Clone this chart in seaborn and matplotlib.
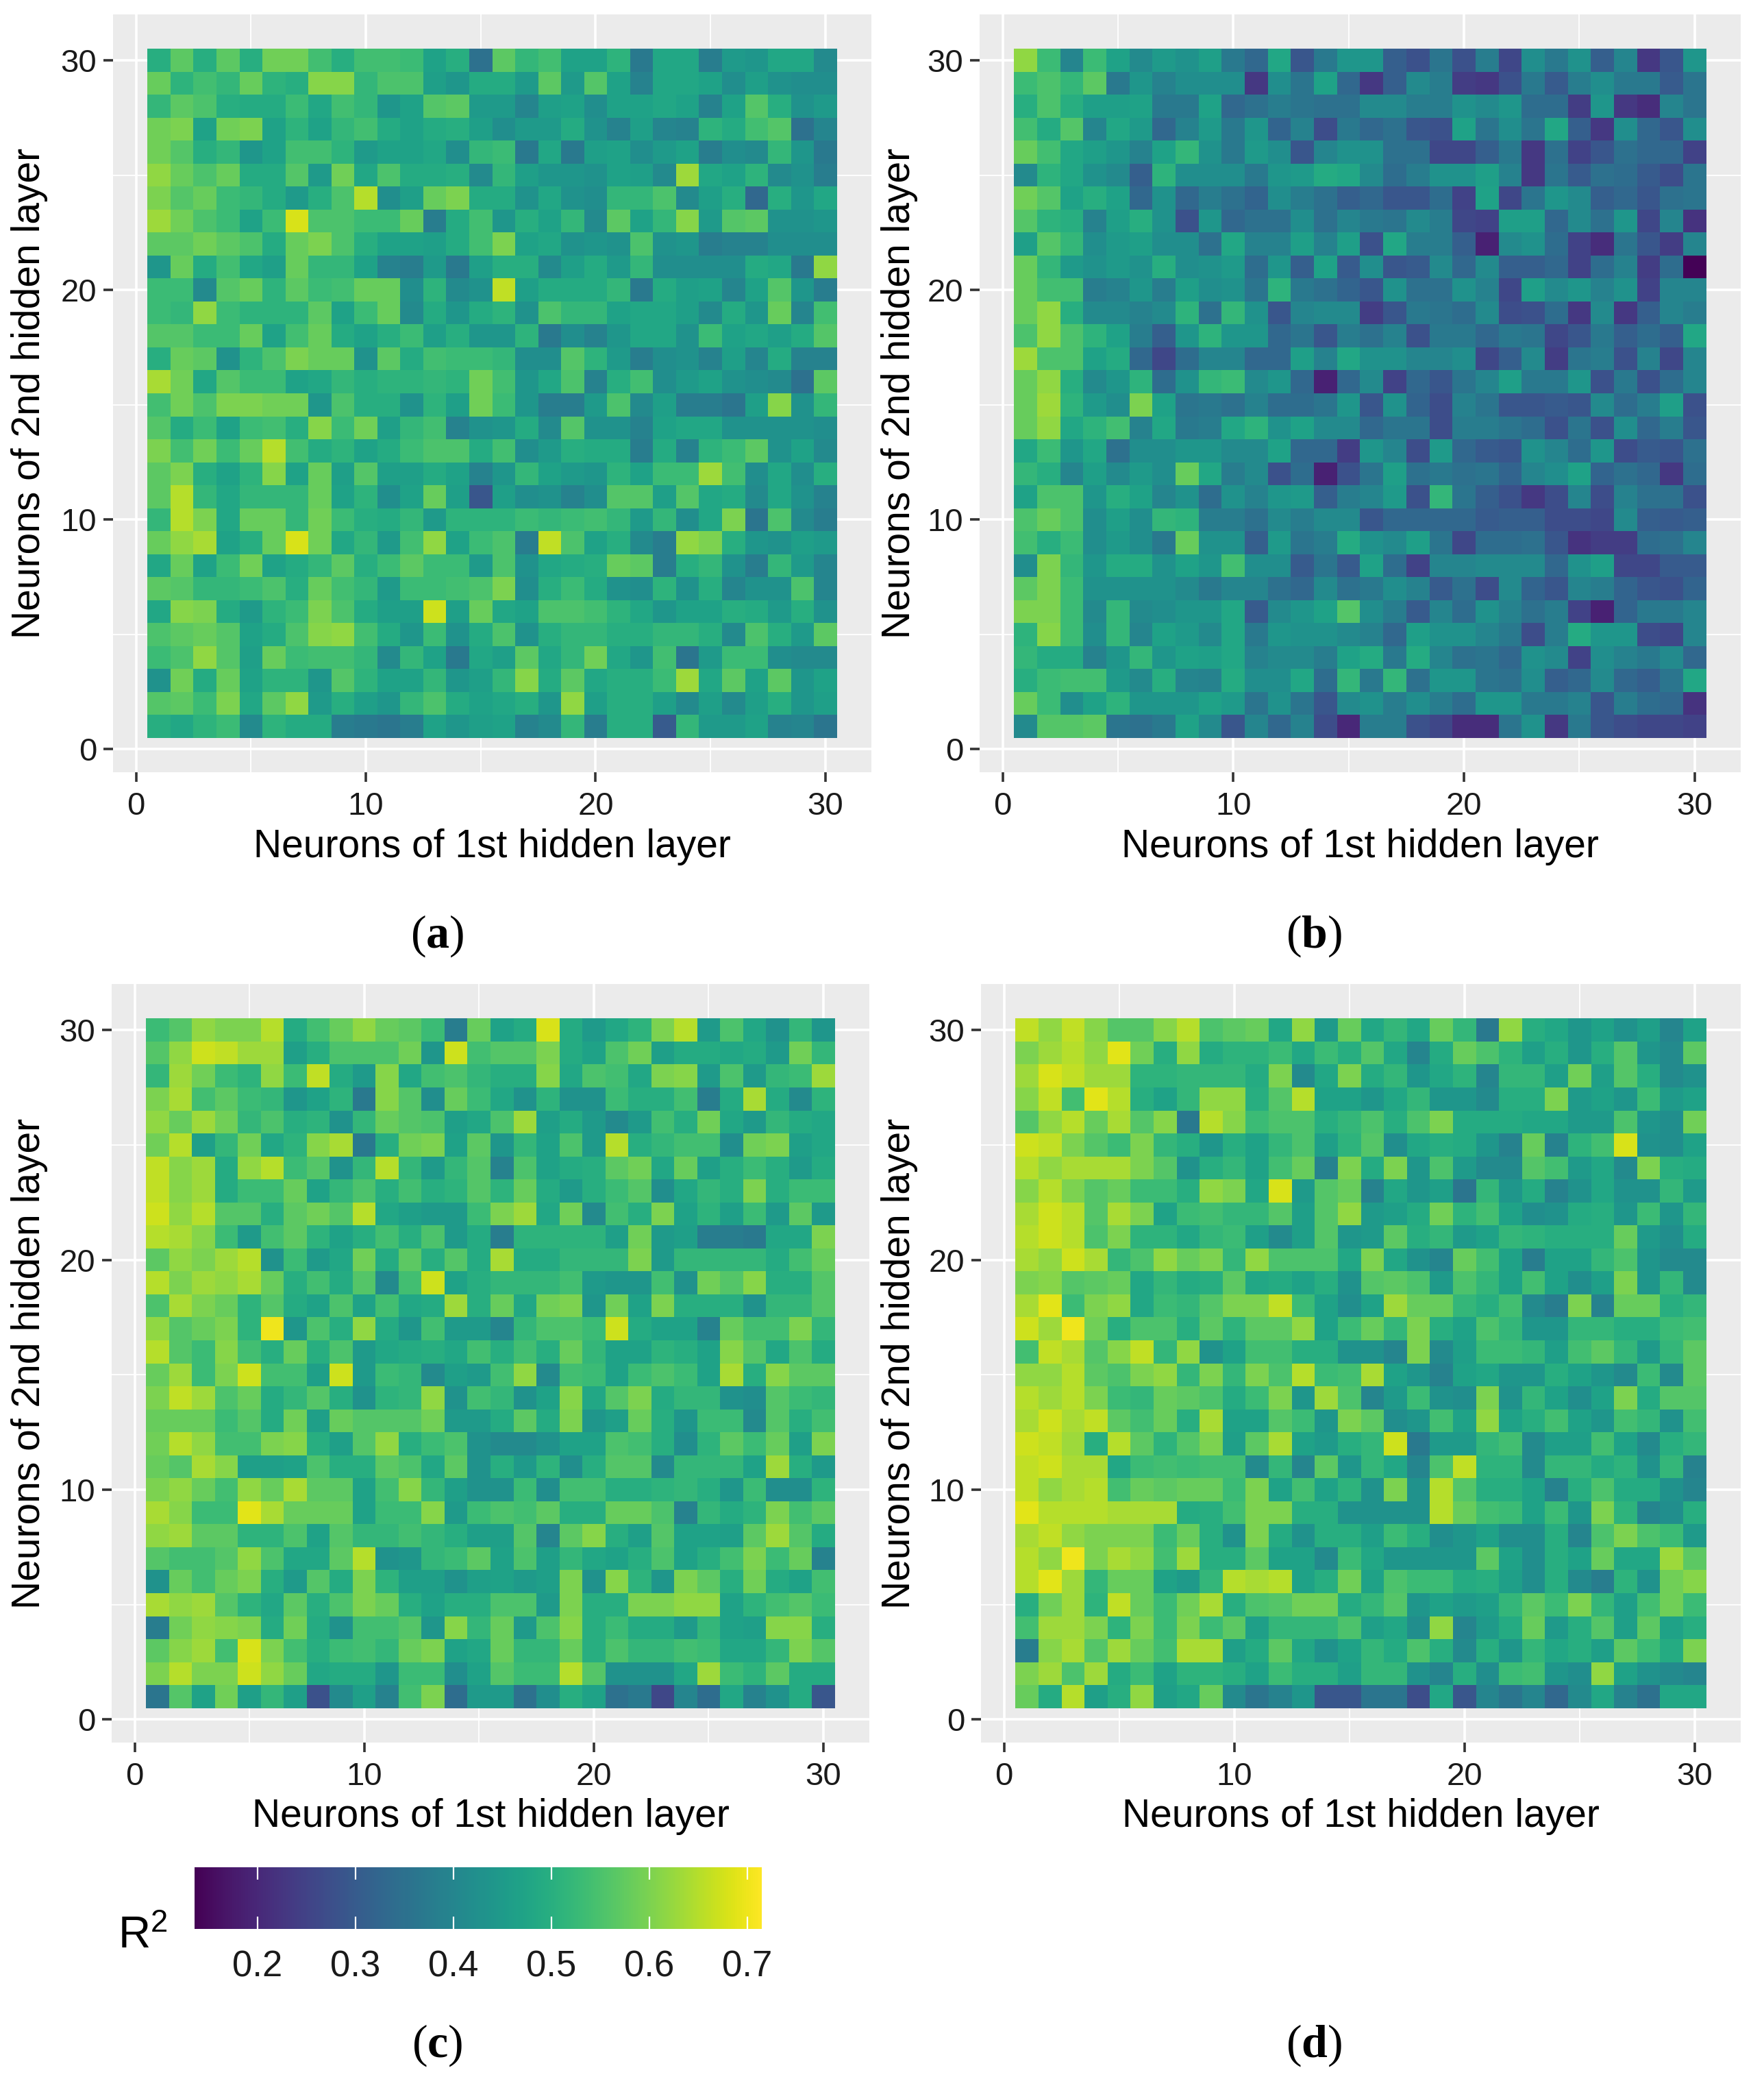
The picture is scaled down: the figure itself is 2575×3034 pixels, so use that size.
import numpy as np
import pandas as pd
import seaborn as sns
import matplotlib
matplotlib.use("Agg")
import matplotlib.pyplot as plt

# R2 x 100, rows go from y=30 (top) down to y=1
panel_a = [
    [50,57,50,57,50,59,59,54,50,54,54,53,47,50,35,57,52,54,47,47,51,37,48,48,38,45,44,48,48,41],
    [58,51,54,52,58,51,50,61,61,52,55,55,46,44,49,49,45,57,45,56,47,39,48,48,47,42,46,43,42,42],
    [52,57,55,50,49,49,53,48,54,52,44,47,56,57,45,45,40,46,47,42,47,47,48,47,39,47,56,50,43,45],
    [59,60,47,59,60,47,51,47,52,54,49,47,49,50,46,42,45,45,49,43,39,46,40,39,51,49,54,56,35,40],
    [59,56,50,52,44,47,54,54,51,45,47,47,48,42,52,53,37,48,37,46,47,42,45,47,38,42,41,52,44,37],
    [62,58,55,58,49,49,56,45,59,48,55,49,49,50,41,52,46,44,44,43,47,46,41,63,48,47,51,41,43,38],
    [60,56,58,53,52,49,45,50,55,65,42,46,58,60,49,49,43,48,43,42,52,52,55,41,46,50,33,50,44,48],
    [63,59,55,53,47,53,68,55,55,53,53,58,38,49,54,44,50,47,52,41,57,47,52,61,45,56,57,43,43,44],
    [57,57,59,57,55,49,58,60,55,50,47,47,46,49,54,60,47,48,43,44,43,55,43,44,38,39,39,42,42,42],
    [44,58,49,54,48,46,58,52,52,47,39,38,45,37,46,50,50,41,46,49,45,52,42,42,42,42,49,48,37,62],
    [53,53,41,56,58,51,57,53,54,58,58,42,51,41,43,66,46,49,49,49,52,37,49,46,47,40,47,56,44,38],
    [53,52,62,53,51,51,51,57,47,53,58,41,49,44,49,51,43,55,52,52,47,48,48,46,41,49,44,58,40,54],
    [56,56,53,53,58,47,54,58,49,47,50,53,46,50,44,44,51,37,42,39,44,48,48,43,53,47,48,46,49,56],
    [50,58,57,43,51,55,60,58,58,43,57,49,54,53,53,52,42,42,56,51,45,38,42,43,39,46,40,49,39,39],
    [64,59,48,56,53,53,47,48,52,50,51,51,52,51,59,54,44,48,55,39,50,54,42,45,47,43,42,41,35,57],
    [54,59,55,60,60,59,59,44,55,50,50,43,51,46,59,53,44,38,38,45,55,41,46,38,38,36,46,61,43,52],
    [56,49,53,47,53,54,50,61,53,59,46,52,54,39,43,44,49,41,56,43,43,39,47,48,48,43,43,43,43,42],
    [60,54,59,53,58,65,54,49,51,47,49,53,55,55,49,54,42,45,50,49,49,38,49,39,51,53,57,43,47,41],
    [57,60,50,47,51,61,47,58,46,56,46,46,49,47,39,44,52,47,45,44,51,47,53,53,63,54,42,48,42,50],
    [57,65,52,48,52,52,52,58,47,51,42,47,58,46,29,46,42,43,39,42,56,56,46,56,48,49,41,48,43,39],
    [52,65,60,48,58,58,52,59,53,50,49,52,45,51,51,51,53,52,53,54,52,45,52,42,48,60,36,55,41,38],
    [58,62,64,47,50,58,68,59,48,52,45,54,62,47,53,55,38,66,55,47,50,41,38,62,60,50,44,43,46,45],
    [48,58,47,53,59,47,49,52,57,50,53,57,53,53,45,55,43,48,49,50,58,57,38,50,52,43,38,52,45,40],
    [57,56,52,52,53,55,50,58,54,52,45,53,53,54,55,60,42,50,53,49,43,42,51,43,50,40,43,43,55,40],
    [48,61,60,49,45,51,53,60,55,49,46,46,67,46,58,48,47,55,55,54,51,48,44,47,47,50,49,45,50,43],
    [55,57,58,56,47,49,55,61,62,54,49,44,53,43,49,55,43,50,52,52,50,50,52,52,50,41,55,50,45,57],
    [53,55,62,56,46,58,53,54,54,52,41,52,47,37,48,46,57,48,52,59,48,44,54,36,45,53,53,42,41,41],
    [43,59,49,58,47,51,51,44,56,51,47,47,52,44,46,52,61,49,57,48,50,50,53,63,48,57,47,57,44,47],
    [56,57,53,60,48,57,62,45,50,46,44,52,55,49,47,48,50,44,62,46,50,50,46,41,46,41,46,50,44,46],
    [50,48,51,53,41,51,49,49,38,37,36,38,47,44,46,47,39,41,52,38,50,50,30,52,45,45,47,39,40,36],
]
panel_b = [
    [62,53,40,53,47,41,45,43,46,37,33,48,29,37,44,44,31,28,36,28,38,26,42,37,43,31,40,23,29,44],
    [53,55,52,57,37,44,39,42,42,42,23,42,36,47,33,23,31,41,38,24,23,28,37,30,38,42,37,37,30,36],
    [50,55,50,46,46,47,37,37,47,33,35,38,36,35,35,41,41,38,38,43,41,44,34,34,24,44,23,21,40,36],
    [54,49,56,40,48,45,33,39,45,37,44,32,39,27,37,33,35,29,28,47,36,42,36,48,31,23,42,33,29,42],
    [58,54,48,46,44,39,47,52,43,37,45,42,29,40,43,43,35,35,26,26,31,37,23,35,25,29,35,33,33,25],
    [41,51,48,43,41,31,51,42,42,42,37,44,45,49,48,41,34,38,43,43,46,39,23,36,30,35,34,30,27,36],
    [59,56,47,50,47,33,43,33,38,35,32,42,38,35,31,33,29,29,34,25,47,26,36,44,41,31,33,29,35,36],
    [56,51,50,39,46,50,43,28,44,33,35,35,42,35,40,37,36,41,38,26,25,46,46,33,41,35,44,26,40,22],
    [46,56,52,42,45,46,42,42,35,48,39,39,46,39,46,28,48,38,38,31,19,41,43,34,25,21,36,29,24,40],
    [58,52,45,43,45,43,50,42,43,45,34,44,31,47,30,42,29,30,41,33,41,31,31,33,25,34,39,24,34,14],
    [58,54,54,38,39,44,38,46,42,43,36,51,37,35,32,29,43,35,35,43,39,26,46,41,44,39,43,25,40,40],
    [58,62,50,41,41,39,41,51,35,52,43,29,40,41,41,24,29,37,36,34,41,27,28,34,23,41,23,31,40,38],
    [55,62,55,51,47,38,31,44,51,44,44,33,36,29,38,35,39,28,37,37,33,37,36,26,29,37,31,34,31,48],
    [63,55,55,47,49,33,26,34,40,40,33,33,46,39,48,43,43,40,40,42,26,31,41,24,36,38,28,39,26,40],
    [58,62,50,41,44,51,34,43,52,53,41,44,33,19,33,41,25,33,29,36,40,46,37,37,44,28,37,28,34,40],
    [58,63,51,45,42,60,47,36,37,35,39,34,34,36,44,29,43,32,27,39,36,29,29,30,29,41,34,38,46,28],
    [58,62,48,51,54,39,48,37,38,48,51,43,47,41,41,33,36,36,27,38,38,36,34,28,36,28,42,33,38,29],
    [48,53,44,48,35,42,42,44,44,41,41,47,33,33,24,44,40,27,45,33,30,29,43,40,34,44,27,30,29,35],
    [52,50,40,46,41,45,42,58,48,38,41,28,34,19,28,36,46,35,37,35,36,32,40,42,47,32,35,33,23,34],
    [47,55,55,44,50,47,40,43,34,43,39,44,45,31,38,40,45,28,52,36,31,28,23,27,40,27,39,35,35,28],
    [55,58,55,42,46,42,52,51,38,38,35,41,38,41,41,29,33,33,33,33,30,31,31,27,27,26,41,31,30,31],
    [54,50,53,42,45,42,37,58,43,43,31,45,36,38,49,43,41,46,36,26,34,34,35,29,22,24,24,34,35,40],
    [42,60,52,44,49,49,43,47,44,54,42,42,30,36,30,47,34,25,40,40,41,41,41,33,43,46,26,26,30,30],
    [57,60,53,43,43,43,43,41,37,40,40,35,33,41,35,37,42,39,30,35,27,41,32,29,40,38,32,29,28,32],
    [60,60,53,41,52,41,42,44,44,48,30,41,44,47,56,42,38,30,40,34,43,39,35,38,25,19,32,37,37,40],
    [51,61,53,42,52,40,47,45,41,48,37,44,43,43,41,39,33,46,43,43,40,37,27,38,49,44,44,27,26,40],
    [52,49,49,39,44,52,44,47,46,48,39,41,41,38,47,49,37,49,40,35,36,33,43,41,25,42,39,37,41,33],
    [50,53,54,54,45,41,50,40,39,49,42,42,48,34,52,37,52,35,44,44,36,35,42,31,33,41,33,31,36,48],
    [58,53,42,47,51,44,44,44,47,45,36,43,36,29,41,43,38,42,38,34,44,44,37,37,39,29,38,34,33,22],
    [41,56,56,57,36,35,37,47,41,29,40,33,39,27,20,38,38,28,26,21,21,36,43,23,37,29,27,26,26,25],
]
panel_c = [
    [53,56,62,60,60,65,49,54,58,62,58,57,53,38,58,47,49,68,49,45,48,51,60,65,45,55,48,43,52,44],
    [56,62,67,66,63,63,46,50,55,55,55,59,44,67,54,56,56,60,49,47,55,59,46,49,49,48,49,45,59,52],
    [52,63,59,53,51,62,53,66,49,45,61,48,54,55,52,50,50,61,48,55,54,48,60,61,45,55,45,52,53,63],
    [60,64,54,57,53,52,44,47,51,37,61,56,42,58,53,48,43,51,43,43,53,50,50,54,38,49,64,49,41,51],
    [62,58,63,59,52,55,50,51,43,52,58,56,55,46,48,55,63,46,49,45,41,45,54,50,59,48,45,52,49,48],
    [59,65,46,52,59,48,51,61,64,37,50,59,60,47,57,44,52,47,55,45,65,50,52,54,54,42,59,60,46,48],
    [66,61,63,49,62,65,53,56,43,52,65,52,45,52,56,39,55,47,49,50,57,59,48,58,46,50,53,50,45,49],
    [66,61,63,49,53,53,58,47,52,55,50,54,50,51,56,51,58,49,45,50,53,56,42,48,52,50,60,50,53,53],
    [67,62,65,56,56,50,57,59,56,65,48,46,45,45,53,60,63,48,59,41,54,50,60,47,51,46,53,45,57,45],
    [65,64,61,53,45,54,57,51,47,50,54,50,55,45,49,38,51,51,51,51,46,59,45,46,38,38,37,48,48,60],
    [57,62,60,63,65,43,53,45,48,59,49,57,50,56,49,64,49,49,52,52,52,60,45,52,52,52,52,49,54,58],
    [65,60,63,62,64,58,50,54,49,56,41,54,67,47,50,52,52,52,54,45,44,44,54,43,59,56,61,50,50,56],
    [55,64,60,58,51,56,49,47,55,47,54,48,49,63,50,58,48,59,60,44,59,47,60,50,50,50,43,52,52,56],
    [62,56,58,60,51,70,44,55,50,62,49,44,54,45,45,40,52,55,55,53,67,49,47,47,39,58,54,54,60,52],
    [65,56,53,61,54,50,58,50,55,45,48,49,50,48,54,50,54,50,58,52,47,47,51,50,47,61,56,48,55,49],
    [58,63,53,60,67,54,54,46,67,45,53,52,41,46,45,54,62,41,54,53,47,53,55,53,47,64,50,61,57,57],
    [60,66,63,55,58,49,52,56,50,43,51,52,62,43,54,52,43,47,61,48,56,60,49,52,52,43,42,56,53,52],
    [58,58,58,53,56,49,59,46,58,56,56,56,59,45,45,49,57,49,60,44,46,58,50,44,53,53,41,56,50,54],
    [59,65,62,54,54,60,61,50,46,56,62,50,53,55,43,41,41,43,47,47,55,54,50,42,51,57,53,58,46,60],
    [58,56,64,61,46,46,47,55,50,50,57,55,48,57,43,50,45,51,42,50,56,56,41,52,52,52,47,63,50,45],
    [60,62,58,54,62,58,64,57,57,47,54,61,52,46,43,43,53,42,54,54,50,50,51,52,50,44,53,42,42,51],
    [64,61,53,53,69,64,58,58,58,47,53,53,61,45,53,55,54,57,50,50,58,58,55,39,52,49,51,60,54,57],
    [62,63,57,57,51,51,55,47,56,52,52,54,52,50,46,46,56,40,57,61,50,46,56,47,47,46,57,63,56,49],
    [56,54,54,56,62,55,48,48,57,65,43,44,52,53,57,47,55,46,52,48,47,50,55,47,50,54,60,53,58,39],
    [43,58,54,58,60,50,45,56,49,60,51,46,46,43,46,47,45,46,60,43,61,51,44,60,57,50,59,49,47,54],
    [64,62,63,56,51,48,57,50,55,60,58,50,47,50,50,55,55,45,60,50,50,60,60,62,62,47,51,54,56,53],
    [38,59,62,61,60,49,59,49,43,54,54,56,44,61,52,58,45,55,61,50,53,49,49,45,52,47,46,61,61,50],
    [57,61,63,54,68,60,54,50,53,54,52,58,60,47,48,58,52,52,58,50,55,52,52,54,53,48,48,52,60,56],
    [60,65,60,60,67,62,58,48,49,49,44,53,53,42,47,56,53,53,65,56,43,43,43,48,63,53,51,57,49,49],
    [36,56,47,59,46,52,46,28,41,46,39,54,60,34,45,45,35,42,50,47,35,37,26,40,34,48,39,43,49,29],
]
panel_d = [
    [66,62,66,61,56,56,61,65,55,57,58,48,62,45,58,48,52,48,58,52,37,62,50,48,44,47,43,46,40,47],
    [60,63,65,62,69,59,50,62,49,51,51,53,48,53,50,56,48,40,49,58,55,51,46,50,44,50,56,44,41,57],
    [63,68,66,63,63,51,51,52,52,52,49,60,41,48,60,49,52,44,48,51,40,52,52,46,59,46,56,50,41,43],
    [61,66,54,69,65,50,47,52,62,62,50,56,65,47,47,44,48,52,44,44,41,50,50,60,45,47,44,53,45,47],
    [56,62,65,58,64,56,61,37,65,61,53,55,55,50,52,55,50,55,60,49,49,49,48,48,45,45,55,44,42,59],
    [67,66,60,56,53,60,52,50,44,50,47,52,55,46,51,56,42,48,50,49,44,39,58,39,51,54,68,43,42,47],
    [65,62,64,64,64,60,56,43,50,52,47,54,58,39,60,49,60,44,55,45,41,41,56,54,45,48,41,60,50,49],
    [61,65,60,56,58,53,53,50,62,60,48,68,45,56,58,39,48,44,46,36,52,44,49,39,43,48,43,43,52,45],
    [64,67,65,56,64,60,47,53,54,52,52,56,46,56,62,45,46,49,59,51,54,47,42,43,49,50,44,53,44,52],
    [65,67,65,55,60,51,51,48,52,53,46,41,46,56,44,45,57,50,52,45,47,52,51,50,50,50,58,45,42,49],
    [64,62,67,64,52,55,62,58,60,52,62,55,55,55,48,60,48,43,40,58,54,47,38,47,47,52,55,44,41,41],
    [60,61,56,57,58,48,52,49,50,57,48,49,47,50,43,56,57,55,45,55,52,47,54,47,42,46,60,44,52,41],
    [64,69,53,60,62,48,53,52,56,60,60,66,53,47,42,47,63,58,58,52,50,54,41,38,60,39,58,58,50,52],
    [67,63,70,59,50,55,55,50,57,51,57,57,62,47,53,58,52,60,50,47,55,52,44,44,52,52,50,50,53,54],
    [54,66,64,56,61,66,52,62,43,47,54,54,50,50,43,43,40,60,41,46,53,53,52,46,54,57,52,45,52,57],
    [62,62,65,57,55,60,62,52,60,52,60,55,65,53,54,64,47,44,39,47,48,44,44,50,47,44,41,53,41,57],
    [65,63,65,60,53,52,58,57,55,49,53,60,44,63,55,40,45,53,43,42,60,43,52,47,42,47,60,49,56,56],
    [64,67,64,66,57,54,58,50,64,47,47,56,53,44,60,57,42,44,54,47,62,47,50,54,47,44,54,52,43,54],
    [67,66,63,50,65,57,51,56,60,46,57,64,47,45,50,52,67,37,45,45,52,54,41,46,46,54,47,41,50,52],
    [66,67,64,64,48,53,54,53,54,54,41,52,40,57,44,52,48,40,55,66,51,51,41,52,52,49,51,43,52,39],
    [66,62,64,65,54,58,57,58,58,53,60,47,54,47,51,43,60,43,65,56,50,50,47,39,50,55,49,49,43,40],
    [69,65,65,65,64,64,64,49,50,54,60,60,50,50,43,43,43,43,65,58,54,53,47,53,44,60,51,40,42,50],
    [64,66,62,60,60,60,53,58,50,43,60,49,43,50,50,46,53,50,42,44,47,42,42,50,40,55,60,55,53,45],
    [65,62,70,60,64,62,54,63,50,50,57,47,47,41,53,48,44,44,44,44,57,47,42,50,47,58,48,48,63,57],
    [65,69,63,52,58,58,47,45,52,65,64,65,47,50,59,47,55,53,53,49,50,46,42,50,41,38,51,43,59,61],
    [50,59,63,51,66,58,53,59,64,50,55,56,59,59,49,52,56,44,47,45,46,52,57,53,60,52,46,54,59,53],
    [54,63,63,60,51,60,53,60,53,57,46,52,52,52,55,46,48,42,62,40,45,49,58,45,50,56,46,57,47,50],
    [38,61,64,56,63,58,54,64,64,46,49,57,48,43,47,52,49,55,50,41,50,44,52,48,50,46,57,53,49,60],
    [60,63,55,63,49,53,47,51,51,50,47,53,50,50,46,52,52,43,40,50,42,53,54,44,42,62,47,43,41,40],
    [58,49,65,46,50,62,46,48,58,41,36,39,44,29,29,36,36,27,48,29,40,36,40,33,41,48,39,35,48,48],
]

neurons_x = list(range(1, 31))
neurons_y = list(range(30, 0, -1))
tick_vals = [0, 10, 20, 30]
minor_vals = [5, 15, 25]
cbar_ticks = [0.2, 0.3, 0.4, 0.5, 0.6, 0.7]
r2_min, r2_max = 0.136, 0.715

W, H = 2575, 3034
# grey panel boxes in pixels: left, top, right, bottom
boxes = {
    "a": (165, 21, 1272, 1127),
    "b": (1430, 21, 2541, 1127),
    "c": (163, 1436, 1269, 2543),
    "d": (1432, 1436, 2541, 2543),
}
letters = {"a": (638, 1366), "b": (1918, 1366), "c": (638, 2985), "d": (1918, 2985)}
ylabel_x = {"a": 43, "b": 1313, "c": 43, "d": 1313}
xlabel_y = {"a": 1236, "b": 1236, "c": 2651, "d": 2651}
data_all = {"a": panel_a, "b": panel_b, "c": panel_c, "d": panel_d}

sns.set_theme(style="white")
plt.rcParams["font.family"] = ["Liberation Sans", "DejaVu Sans"]
plt.rcParams["mathtext.fontset"] = "custom"
plt.rcParams["mathtext.bf"] = "Liberation Serif:bold"
plt.rcParams["mathtext.rm"] = "Liberation Sans"
plt.rcParams["mathtext.default"] = "rm"

fig = plt.figure(figsize=(W / 100, H / 100), dpi=100, facecolor="white")
cax = fig.add_axes([284 / W, 1 - 2815 / H, (1112 - 284) / W, (2815 - 2725) / H])

for key, box in boxes.items():
    l, t, r, b = box
    ax = fig.add_axes([l / W, 1 - b / H, (r - l) / W, (b - t) / H])
    df = pd.DataFrame(np.array(data_all[key]) / 100, index=neurons_y, columns=neurons_x)
    # the colour bar is shared, draw it once with panel c
    sns.heatmap(df, ax=ax, cmap="viridis", vmin=r2_min, vmax=r2_max, square=False,
                xticklabels=False, yticklabels=False, linewidths=0,
                cbar=key == "c", cbar_ax=cax if key == "c" else None,
                cbar_kws={"orientation": "horizontal", "ticks": cbar_ticks})
    ax.set_facecolor("#EBEBEB")
    for s in ax.spines.values():
        s.set_visible(False)
    # heatmap cells sit on 0..30, so the value v is at v-0.5 on x and 30.5-v on y
    ax.set_xlim(-1.5, 31.5)
    ax.set_ylim(31.5, -1.5)
    ax.set_xticks([v - 0.5 for v in tick_vals], labels=tick_vals)
    ax.set_yticks([30.5 - v for v in tick_vals], labels=tick_vals, rotation=0)
    ax.set_xticks([v - 0.5 for v in minor_vals], minor=True)
    ax.set_yticks([30.5 - v for v in minor_vals], minor=True)
    ax.set_axisbelow(True)
    ax.grid(True, which="major", color="white", linewidth=2.6)
    ax.grid(True, which="minor", color="white", linewidth=1.3)
    ax.tick_params(which="major", length=10, width=2.6, color="#333333", labelcolor="#1a1a1a",
                   labelsize=34, bottom=True, left=True)
    ax.tick_params(axis="x", which="major", pad=10)
    ax.tick_params(axis="y", which="major", pad=7)
    ax.tick_params(which="minor", length=0)
    ax.set_xlabel("Neurons of 1st hidden layer", fontsize=41, color="black")
    ax.set_ylabel("Neurons of 2nd hidden layer", fontsize=41, color="black")
    ax.xaxis.set_label_coords(0.5, -(xlabel_y[key] - b) / (b - t), transform=ax.transAxes)
    ax.yaxis.set_label_coords((ylabel_x[key] - l) / (r - l), 0.5, transform=ax.transAxes)
    ax.xaxis.label.set_verticalalignment("center")
    ax.yaxis.label.set_verticalalignment("center")
    lx, ly = letters[key]
    fig.text(lx / W, 1 - ly / H, "(" + r"$\mathbf{" + key + r"}$" + ")", fontsize=49,
             family="Liberation Serif", ha="center", va="center", color="black")

cax.set_axisbelow(False)
cax.xaxis.set_ticks_position("both")
cax.tick_params(axis="x", which="major", direction="in", length=13, width=1.6, color="white",
                labelcolor="#1a1a1a", labelsize=38, pad=22, top=True, bottom=True, labeltop=False)
for s in cax.spines.values():
    s.set_visible(False)
fig.text(208 / W, 1 - 2826 / H, r"R$^{2}$", fontsize=47, ha="center", va="center", color="black")

fig.savefig("out.png", dpi=100)
